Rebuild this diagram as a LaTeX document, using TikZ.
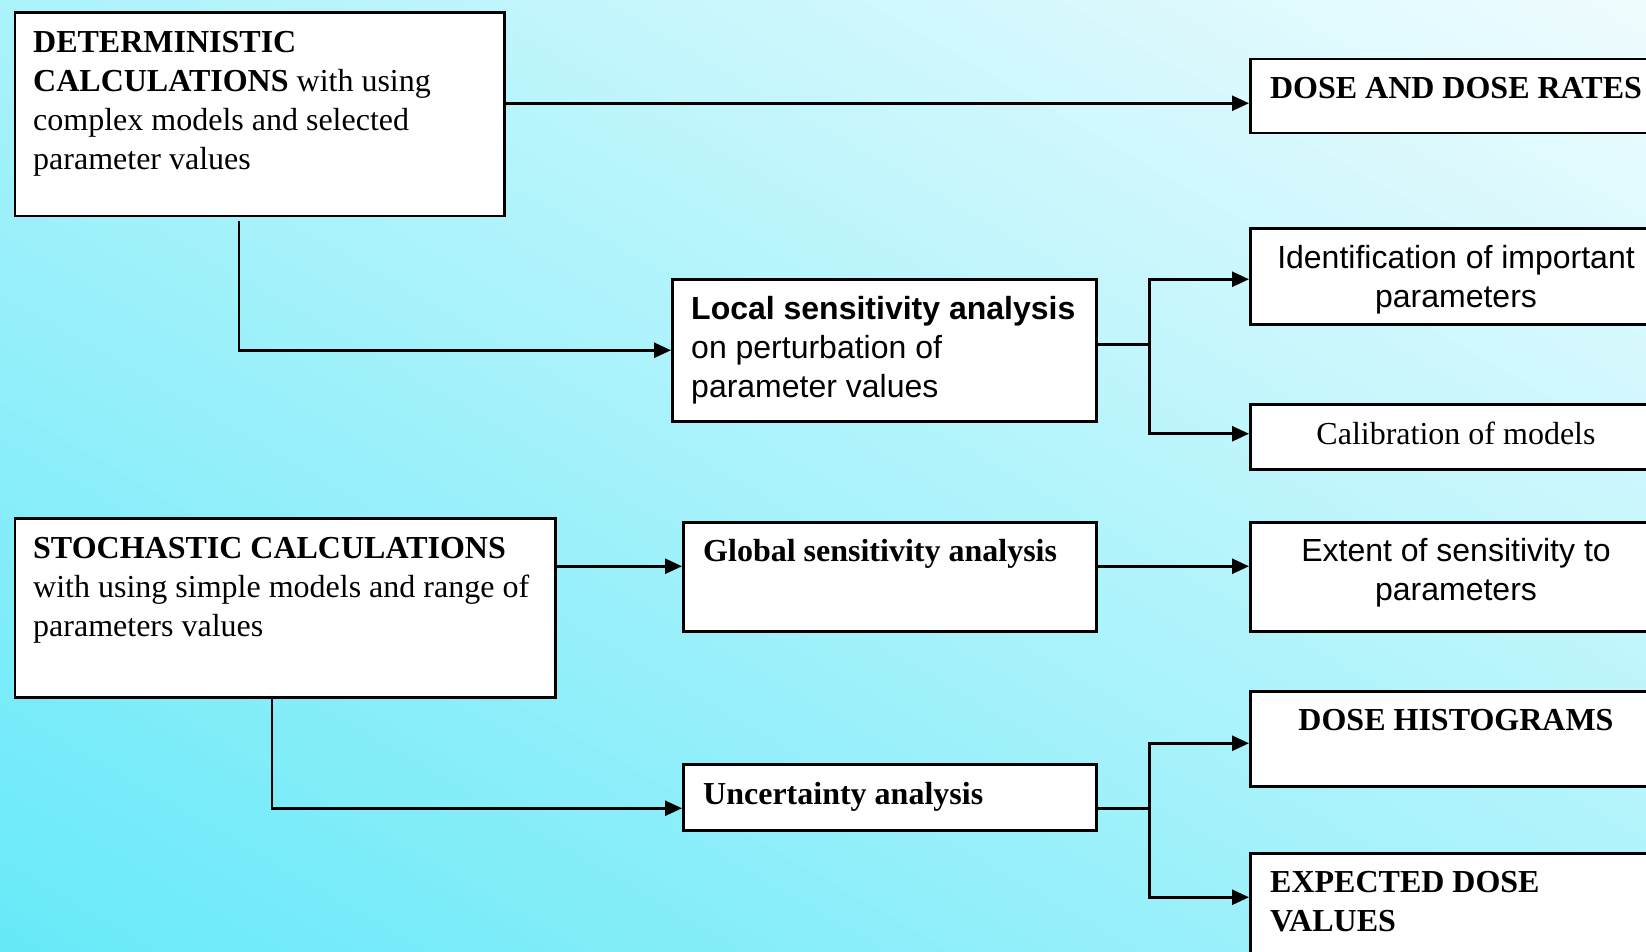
\documentclass[tikz,border=0pt]{standalone}
\usepackage{fontspec}
\setmainfont{Liberation Serif}
\newfontfamily\arialfont{Liberation Sans}
\usetikzlibrary{arrows.meta}
\definecolor{bgA}{RGB}{102,233,248}
\definecolor{bgB}{RGB}{240,252,254}
\begin{document}
\begin{tikzpicture}[x=1pt,y=-1pt,
  box/.style={draw=black, fill=white, line width=2.5pt, inner sep=0pt, anchor=north west},
  ser/.style={inner sep=0pt, align=left, font=\fontsize{32}{39}\selectfont, execute at begin node=\strut},
  sans/.style={inner sep=0pt, align=left, font=\arialfont\fontsize{32}{39}\selectfont, execute at begin node=\strut},
  arr/.style={line width=2.6pt, -{Triangle[length=17pt,width=15pt]}},
  ln/.style={line width=2.6pt}]
\useasboundingbox (0,0) rectangle (1646,952);
\clip (0,0) rectangle (1646,952);
% diagonal background gradient (cyan at lower left, pale at upper right)
\begin{scope}[shift={(823,476)}, rotate=60]
  \foreach \i in {0,...,99} {
    \pgfmathsetmacro{\t}{-830+\i*16.6}
    \pgfmathsetmacro{\pc}{(\i+0.5)}
    \fill[bgB!\pc!bgA] (\t,-1100) rectangle ({\t+26},1100);
  }
\end{scope}

% boxes
\node[box, minimum width=489.4, minimum height=203.5] (det) at (13.6,11.5) {};
\node[box, minimum width=424, minimum height=142] (loc) at (671,278) {};
\node[box, minimum width=414, minimum height=74] (dose) at (1249,58) {};
\node[box, minimum width=414, minimum height=96] (ident) at (1249,227) {};
\node[box, minimum width=414, minimum height=65] (calib) at (1249,403) {};
\node[box, minimum width=540.4, minimum height=179] (stoch) at (13.6,517) {};
\node[box, minimum width=413, minimum height=109] (glob) at (682,521) {};
\node[box, minimum width=414, minimum height=109] (ext) at (1249,521) {};
\node[box, minimum width=413, minimum height=66] (unc) at (682,763) {};
\node[box, minimum width=414, minimum height=95] (hist) at (1249,690) {};
\node[box, minimum width=414, minimum height=140] (expd) at (1249,852) {};

% texts
\node[ser, anchor=north west] (tdet) at (33,31) {\textbf{DETERMINISTIC}\\\textbf{CALCULATIONS} with using\\complex models and selected\\parameter values};
\node[sans, anchor=north west] (tloc) at (691,296) {\textbf{Local sensitivity analysis}\\on perturbation of\\parameter values};
\node[ser, anchor=north] (tdose) at (1456,71) {\textbf{DOSE AND DOSE RATES}};
\node[sans, anchor=north, align=center] (tident) at (1456,245) {Identification of important\\parameters};
\node[ser, anchor=north] (tcalib) at (1456,417) {Calibration of models};
\node[ser, anchor=north west] (tstoch) at (33,537) {\textbf{STOCHASTIC CALCULATIONS}\\with using simple models and range of\\parameters values};
\node[ser, anchor=north west] (tglob) at (703,534) {\textbf{Global sensitivity analysis}};
\node[sans, anchor=north, align=center] (text) at (1456,538.5) {Extent of sensitivity to\\parameters};
\node[ser, anchor=north west] (tunc) at (703,777) {\textbf{Uncertainty analysis}};
\node[ser, anchor=north] (thist) at (1456,703) {\textbf{DOSE HISTOGRAMS}};
\node[ser, anchor=north west] (texpd) at (1270,871) {\textbf{EXPECTED DOSE}\\\textbf{VALUES}};

% connectors
\coordinate (d1) at ([yshift=-7pt]dose.west);
\draw[arr] (det.east |- d1) -- (d1);

\coordinate (j1) at ([xshift=225.4pt, yshift=-4pt]det.south west);
\draw[arr] (j1) |- (loc.west);

\coordinate (k1) at ([xshift=52pt, yshift=6pt]loc.east);
\draw[ln] ([yshift=6pt]loc.east) -- (k1);
\draw[arr] (k1) |- ([yshift=-3pt]ident.west);
\draw[arr] (k1) |- ([yshift=3pt]calib.west);

\coordinate (s1) at ([yshift=10.5pt]glob.west);
\draw[arr] (stoch.east |- s1) -- (s1);
\draw[arr] (glob.east |- s1) -- (ext.west |- s1);

\coordinate (j2) at ([xshift=258.4pt]stoch.south west);
\draw[arr] (j2) |- ([yshift=-11pt]unc.west);

\coordinate (k2) at ([xshift=52pt, yshift=-11pt]unc.east);
\draw[ln] ([yshift=-11pt]unc.east) -- (k2);
\draw[arr] (k2) |- ([yshift=-4.5pt]hist.west);
\draw[arr] (k2) |- ([yshift=26pt]expd.west);
\end{tikzpicture}
\end{document}
